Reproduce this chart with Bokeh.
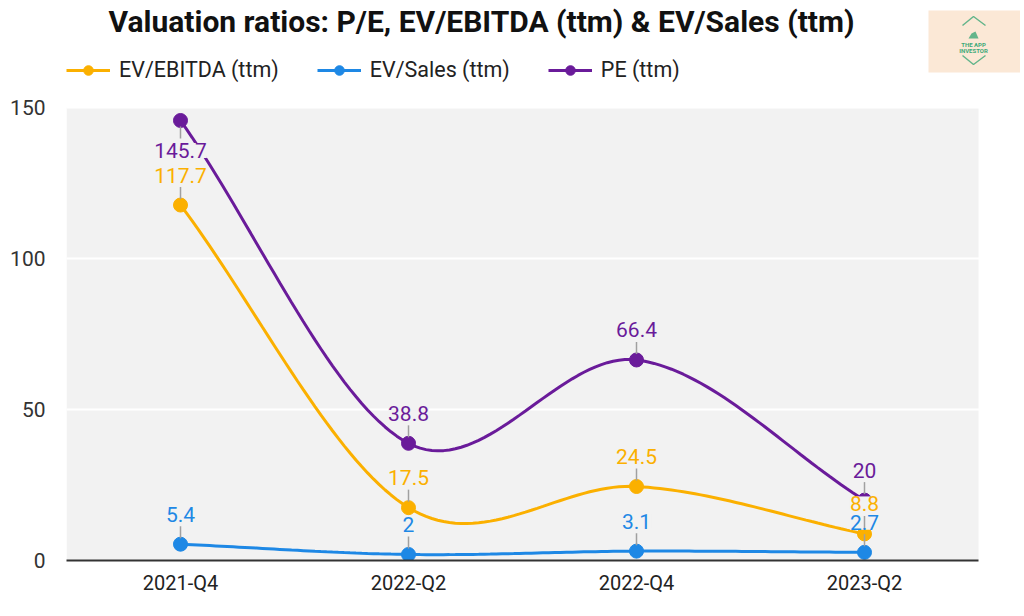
import numpy as np
from bokeh.plotting import figure
from bokeh.models import Range1d, FixedTicker, Legend, LegendItem, ColumnDataSource, Text
from bokeh.core.properties import value
from bokeh.embed import file_html
from bokeh.resources import INLINE

# ---------------- data ----------------
quarters = ["2021-Q4", "2022-Q2", "2022-Q4", "2023-Q2"]
ev_ebitda = [117.7, 17.5, 24.5, 8.8]
ev_sales = [5.4, 2.0, 3.1, 2.7]
pe = [145.7, 38.8, 66.4, 20.0]
series_names = ["EV/EBITDA (ttm)", "EV/Sales (ttm)", "PE (ttm)"]
series_colors = ["#fbb000", "#1e88e5", "#6a1b9a"]
y_ticks = [0, 50, 100, 150]
y_max = 150
title_text = "Valuation ratios: P/E, EV/EBITDA (ttm) & EV/Sales (ttm)"

FONT = "Roboto"
BG = "#f2f2f2"

# ---------------- geometry (canvas pixels) ----------------
W, H = 1020, 610
LEFT, RIGHT_PLOT, BOTTOM, TOP_PLOT = 66, 978, 560, 107
PX_PER_X = (RIGHT_PLOT - LEFT) / 4.0
PX_PER_Y = (BOTTOM - TOP_PLOT) / float(y_max)
x_end = -0.5 + (W - LEFT) / PX_PER_X
y_end = BOTTOM / PX_PER_Y

p = figure(width=W, height=H, x_range=Range1d(-0.5, x_end), y_range=Range1d(0, y_end),
           toolbar_location=None, output_backend="svg",
           min_border_left=LEFT, min_border_right=0, min_border_top=0,
           min_border_bottom=H - BOTTOM)
p.extra_x_ranges = {"px": Range1d(LEFT, W)}
p.extra_y_ranges = {"px": Range1d(BOTTOM, 0)}
p.outline_line_color = None
p.background_fill_color = "white"
p.border_fill_color = "white"

# plot area background
p.quad(left=[-0.5], right=[3.5], bottom=[0], top=[y_max], fill_color=BG, line_color=None,
       level="image")

p.xgrid.visible = False
p.ygrid.grid_line_color = "white"
p.ygrid.grid_line_width = 2
p.yaxis.ticker = FixedTicker(ticks=y_ticks)
p.xaxis.ticker = FixedTicker(ticks=list(range(len(quarters))))
p.xaxis.major_label_overrides = {i: q for i, q in enumerate(quarters)}
p.xaxis.bounds = (-0.5, 3.5)
for ax in (p.xaxis, p.yaxis):
    ax.major_tick_out = 0
    ax.major_tick_in = 0
    ax.minor_tick_out = 0
    ax.minor_tick_in = 0
    ax.major_tick_line_color = None
    ax.minor_tick_line_color = None
p.yaxis.axis_line_color = None
p.xaxis.axis_line_color = "#333333"
p.xaxis.axis_line_width = 2
p.yaxis.major_label_text_font = FONT
p.yaxis.major_label_text_font_size = "21px"
p.yaxis.major_label_text_color = "#333333"
p.yaxis.major_label_standoff = 21
p.xaxis.major_label_text_font = FONT
p.xaxis.major_label_text_font_size = "20px"
p.xaxis.major_label_text_color = "#222222"
p.xaxis.major_label_standoff = 10


def smooth(vals, n=40):
    v = np.asarray(vals, dtype=float)
    k = len(v)
    m = np.empty(k)
    m[0] = v[1] - v[0]
    m[-1] = v[-1] - v[-2]
    m[1:-1] = (v[2:] - v[:-2]) / 2.0
    xs, ys = [], []
    for i in range(k - 1):
        t = np.linspace(0, 1, n)
        h00 = 2 * t**3 - 3 * t**2 + 1
        h10 = t**3 - 2 * t**2 + t
        h01 = -2 * t**3 + 3 * t**2
        h11 = t**3 - t**2
        xs.extend(list(i + t))
        ys.extend(list(h00 * v[i] + h10 * m[i] + h01 * v[i + 1] + h11 * m[i + 1]))
    return xs, ys


xi = list(range(len(quarters)))
all_series = [ev_ebitda, ev_sales, pe]
line_rs, dot_rs = [], []
for vals, col in zip(all_series, series_colors):
    sx, sy = smooth(vals)
    line_rs.append(p.line(x=sx, y=sy, line_color=col, line_width=3))
for vals, col in zip(all_series, series_colors):
    dot_rs.append(p.scatter(x=xi, y=vals, size=14, fill_color=col, line_color=col))

# data labels with leader lines
lx, ly, lt, lc, loff = [], [], [], [], []
sx0, sy0, sy1 = [], [], []
for vals, col in zip(all_series, series_colors):
    for i, v in enumerate(vals):
        below = (v + 30 / PX_PER_Y) > y_max - 4 / PX_PER_Y
        sgn = -1 if below else 1
        lx.append(i)
        ly.append(v)
        lt.append(f"{v:g}")
        lc.append(col)
        loff.append(30 if below else -30)
        sx0.append(i)
        sy0.append(v + sgn * 6 / PX_PER_Y)
        sy1.append(v + sgn * 18 / PX_PER_Y)

halo = {}
tprops = Text.properties()
if "background_fill_color" in tprops:
    halo["background_fill_color"] = BG
if "padding" in tprops:
    halo["padding"] = 0

lsrc = ColumnDataSource(dict(x=lx, y=ly, text=lt, color=lc, off=loff))
p.text(x="x", y="y", text="text", source=lsrc, text_color="color", y_offset="off",
       text_font=value(FONT), text_font_size="21px", text_align="center",
       text_baseline="middle", **halo)
p.segment(x0=sx0, y0=sy0, x1=sx0, y1=sy1, line_color="#a0a0a0", line_width=1.5)

# ---------------- title ----------------
p.text(x=[481], y=[21], text=[title_text], text_font=value(FONT), text_font_style="bold",
       text_font_size="30px", text_align="center", text_baseline="middle",
       text_color="#111111", x_range_name="px", y_range_name="px")

# ---------------- logo ----------------
green = "#3da878"
p.quad(left=[928], right=[1020], top=[10], bottom=[72], fill_color="#fbe8d6", line_color=None,
       x_range_name="px", y_range_name="px")
p.line(x=[962, 973, 985], y=[25, 16, 25], line_color=green, line_width=1.5, line_alpha=0.8,
       x_range_name="px", y_range_name="px")
p.line(x=[962, 973, 985], y=[55, 64, 55], line_color=green, line_width=1.5, line_alpha=0.8,
       x_range_name="px", y_range_name="px")
p.patch(x=[968, 978, 975, 971], y=[38, 38, 31, 33], fill_color=green, line_color=None,
        fill_alpha=0.8, x_range_name="px", y_range_name="px")
p.text(x=[973, 973], y=[44, 50], text=["THE APP", "INVESTOR"], text_font=value(FONT),
       text_font_style="bold", text_font_size="6px", text_align="center",
       text_baseline="middle", text_color=green, x_range_name="px", y_range_name="px")

# ---------------- legend ----------------
items = [LegendItem(label=n, renderers=[lr, dr]) for n, lr, dr in zip(series_names, line_rs, dot_rs)]
legend = Legend(items=items, orientation="horizontal", location=(0, BOTTOM - 82),
                glyph_width=44, glyph_height=24, label_height=24, label_standoff=9,
                spacing=38, padding=0, margin=0, border_line_color=None,
                background_fill_alpha=0, label_text_font=FONT,
                label_text_font_size="21.5px", label_text_color="#222222")
p.add_layout(legend)

open("out.html", "w").write(file_html(p, INLINE))
